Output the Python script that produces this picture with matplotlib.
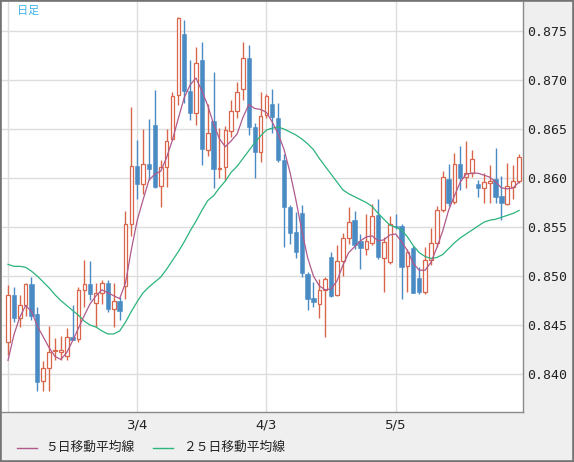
import numpy as np
import pandas as pd
import matplotlib
matplotlib.use("Agg")
import matplotlib.pyplot as plt
from matplotlib.lines import Line2D
from matplotlib.patches import Rectangle

plt.rcParams['font.family'] = ['Noto Sans CJK JP', 'DejaVu Sans']

# ---- data: daily candles (business days from 2020-02-03) ----
dates = pd.bdate_range("2020-02-03", periods=88)

opens = [0.8433, 0.8481, 0.8457, 0.8471, 0.8492, 0.8461, 0.8393, 0.8406, 0.8424, 0.8423,
         0.8419, 0.8438, 0.8436, 0.8486, 0.8492, 0.8473, 0.8483, 0.8493, 0.8466, 0.8475,
         0.8490, 0.8553, 0.8612, 0.8594, 0.8614, 0.8654, 0.8592, 0.8611, 0.8640, 0.8685,
         0.8747, 0.8689, 0.8666, 0.8720, 0.8629, 0.8658, 0.8609, 0.8611, 0.8648, 0.8668,
         0.8691, 0.8722, 0.8652, 0.8627, 0.8664, 0.8676, 0.8661, 0.8618, 0.8571, 0.8545,
         0.8564, 0.8502, 0.8478, 0.8472, 0.8486, 0.8519, 0.8481, 0.8515, 0.8539, 0.8557,
         0.8536, 0.8528, 0.8534, 0.8562, 0.8518, 0.8514, 0.8551, 0.8551, 0.8510, 0.8529,
         0.8498, 0.8484, 0.8516, 0.8534, 0.8567, 0.8599, 0.8576, 0.8614, 0.8601, 0.8605,
         0.8594, 0.8590, 0.8595, 0.8599, 0.8582, 0.8574, 0.8591, 0.8597]
closes = [0.8481, 0.8457, 0.8471, 0.8492, 0.8459, 0.8392, 0.8406, 0.8423, 0.8425, 0.8425,
          0.8438, 0.8435, 0.8486, 0.8492, 0.8482, 0.8483, 0.8493, 0.8466, 0.8475, 0.8464,
          0.8553, 0.8612, 0.8594, 0.8614, 0.8609, 0.8591, 0.8611, 0.8638, 0.8684, 0.8763,
          0.8689, 0.8666, 0.8717, 0.8630, 0.8646, 0.8609, 0.8610, 0.8649, 0.8668, 0.8688,
          0.8722, 0.8652, 0.8627, 0.8663, 0.8684, 0.8662, 0.8618, 0.8571, 0.8544, 0.8525,
          0.8503, 0.8477, 0.8474, 0.8486, 0.8497, 0.8480, 0.8515, 0.8539, 0.8555, 0.8532,
          0.8529, 0.8536, 0.8561, 0.8519, 0.8535, 0.8553, 0.8550, 0.8509, 0.8525, 0.8483,
          0.8484, 0.8516, 0.8534, 0.8567, 0.8601, 0.8575, 0.8614, 0.8600, 0.8605, 0.8619,
          0.8590, 0.8596, 0.8597, 0.8581, 0.8575, 0.8592, 0.8597, 0.8621]
highs = [0.8491, 0.8489, 0.8481, 0.8493, 0.8499, 0.8468, 0.8413, 0.8449, 0.8437, 0.8439,
         0.8447, 0.8471, 0.8489, 0.8516, 0.8515, 0.8493, 0.8496, 0.8496, 0.8493, 0.8479,
         0.8566, 0.8673, 0.8639, 0.8650, 0.8660, 0.8690, 0.8618, 0.8650, 0.8688, 0.8764,
         0.8761, 0.8720, 0.8734, 0.8739, 0.8676, 0.8708, 0.8651, 0.8653, 0.8680, 0.8698,
         0.8739, 0.8736, 0.8656, 0.8688, 0.8686, 0.8691, 0.8677, 0.8625, 0.8573, 0.8565,
         0.8573, 0.8504, 0.8494, 0.8497, 0.8499, 0.8525, 0.8532, 0.8544, 0.8570, 0.8566,
         0.8543, 0.8563, 0.8574, 0.8579, 0.8540, 0.8561, 0.8563, 0.8553, 0.8528, 0.8531,
         0.8509, 0.8530, 0.8549, 0.8572, 0.8607, 0.8614, 0.8626, 0.8633, 0.8638, 0.8629,
         0.8598, 0.8605, 0.8613, 0.8631, 0.8602, 0.8615, 0.8613, 0.8625]
lows = [0.8420, 0.8453, 0.8448, 0.8459, 0.8455, 0.8383, 0.8383, 0.8383, 0.8414, 0.8414,
        0.8414, 0.8435, 0.8433, 0.8468, 0.8476, 0.8448, 0.8472, 0.8463, 0.8448, 0.8455,
        0.8477, 0.8541, 0.8579, 0.8584, 0.8598, 0.8590, 0.8570, 0.8591, 0.8639, 0.8675,
        0.8677, 0.8659, 0.8654, 0.8613, 0.8623, 0.8590, 0.8600, 0.8598, 0.8642, 0.8661,
        0.8680, 0.8644, 0.8600, 0.8616, 0.8661, 0.8646, 0.8616, 0.8530, 0.8533, 0.8518,
        0.8499, 0.8465, 0.8468, 0.8457, 0.8438, 0.8479, 0.8480, 0.8500, 0.8533, 0.8528,
        0.8507, 0.8522, 0.8532, 0.8517, 0.8484, 0.8512, 0.8548, 0.8477, 0.8484, 0.8483,
        0.8482, 0.8482, 0.8511, 0.8530, 0.8565, 0.8572, 0.8574, 0.8588, 0.8590, 0.8601,
        0.8581, 0.8575, 0.8575, 0.8575, 0.8557, 0.8573, 0.8579, 0.8595]

# moving averages
ma5 = [0.8414, 0.8440, 0.8458, 0.8470, 0.8464, 0.8449, 0.8438, 0.8427, 0.8418, 0.8415,
       0.8422, 0.8434, 0.8447, 0.8460, 0.8472, 0.8480, 0.8486, 0.8483, 0.8480, 0.8477,
       0.8493, 0.8527, 0.8557, 0.8578, 0.8598, 0.8604, 0.8607, 0.8621, 0.8639, 0.8661,
       0.8682, 0.8695, 0.8702, 0.8689, 0.8674, 0.8655, 0.8640, 0.8632, 0.8638, 0.8645,
       0.8662, 0.8675, 0.8671, 0.8670, 0.8667, 0.8657, 0.8645, 0.8629, 0.8606, 0.8578,
       0.8547, 0.8519, 0.8500, 0.8490, 0.8486, 0.8487, 0.8495, 0.8511, 0.8524, 0.8530,
       0.8536, 0.8540, 0.8541, 0.8536, 0.8537, 0.8542, 0.8543, 0.8535, 0.8526, 0.8513,
       0.8506, 0.8506, 0.8514, 0.8529, 0.8546, 0.8567, 0.8582, 0.8596, 0.8604, 0.8605,
       0.8605, 0.8603, 0.8601, 0.8596, 0.8590, 0.8589, 0.8590, 0.8596]
ma25 = [0.8512, 0.8510, 0.8510, 0.8509, 0.8505, 0.8500, 0.8494, 0.8488, 0.8481, 0.8475,
        0.8470, 0.8465, 0.8460, 0.8454, 0.8450, 0.8448, 0.8444, 0.8441, 0.8441, 0.8444,
        0.8453, 0.8464, 0.8474, 0.8483, 0.8489, 0.8494, 0.8499, 0.8507, 0.8516, 0.8525,
        0.8535, 0.8546, 0.8556, 0.8567, 0.8577, 0.8582, 0.8590, 0.8597, 0.8606, 0.8612,
        0.8620, 0.8628, 0.8636, 0.8643, 0.8649, 0.8651, 0.8652, 0.8650, 0.8647, 0.8644,
        0.8640, 0.8635, 0.8629, 0.8620, 0.8612, 0.8604, 0.8596, 0.8588, 0.8584, 0.8581,
        0.8578, 0.8575, 0.8571, 0.8564, 0.8558, 0.8552, 0.8550, 0.8547, 0.8540, 0.8531,
        0.8524, 0.8520, 0.8518, 0.8519, 0.8522, 0.8528, 0.8534, 0.8539, 0.8543, 0.8547,
        0.8551, 0.8555, 0.8557, 0.8558, 0.8560, 0.8562, 0.8564, 0.8567]

grid_dates = ["2020-02-03", "2020-03-04", "2020-04-03", "2020-05-05"]
grid_labels = ["", "3/4", "4/3", "5/5"]
y_ticks = [0.840, 0.845, 0.850, 0.855, 0.860, 0.865, 0.870, 0.875]

# ---- colours ----
c_up = "#d9664a"
c_dn = "#4a8bc4"
c_ma5 = "#b05a8c"
c_ma25 = "#2bb47c"
c_grid = "#dddddd"

W, H = 574, 462
fig = plt.figure(figsize=(W / 100, H / 100), dpi=100, facecolor="#efefef")
ax = fig.add_axes([2 / W, 1 - 411.5 / H, 521 / W, 409.5 / H])
ax.set_facecolor("white")

o = np.array(opens); c = np.array(closes)
hi = np.array(highs); lo = np.array(lows)
x = np.arange(len(o))
up = c >= o

# grid
gx = [dates.get_loc(pd.Timestamp(d)) for d in grid_dates]
for g in gx:
    ax.axvline(g, color=c_grid, lw=1, zorder=0)
for v in y_ticks:
    ax.axhline(v, color=c_grid, lw=1, zorder=0)

# wicks then bodies
ax.vlines(x, lo, hi, colors=np.where(up, c_up, c_dn), lw=1, zorder=2)
bw = 0.62
body_h = np.maximum(np.abs(c - o), 0.00004)
ax.bar(x[up], body_h[up], bottom=np.minimum(o, c)[up], width=bw,
       facecolor="white", edgecolor=c_up, linewidth=0.9, zorder=3)
ax.bar(x[~up], body_h[~up], bottom=np.minimum(o, c)[~up], width=bw + 0.1,
       facecolor=c_dn, edgecolor=c_dn, linewidth=0.4, zorder=3)

# moving averages
ax.plot(x, ma25, color=c_ma25, lw=0.9, zorder=4)
ax.plot(x, ma5, color=c_ma5, lw=0.9, zorder=4)

# axes limits / ticks
ax.set_xlim(-1.02, 87.67)
ax.set_ylim(0.83619, 0.87796)
ax.set_xticks(gx)
ax.set_xticklabels(grid_labels, fontsize=9.5, family=['DejaVu Sans'])
ax.yaxis.tick_right()
ax.set_yticks(y_ticks)
ax.set_yticklabels([f"{v:.3f}" for v in y_ticks], fontsize=9.5,
                   family=['DejaVu Sans Mono'])
ax.tick_params(axis="both", length=0, colors="#222222")
ax.tick_params(axis="x", pad=5)
ax.tick_params(axis="y", pad=3)

for s in ["left", "top"]:
    ax.spines[s].set_visible(False)
for s in ["right", "bottom"]:
    ax.spines[s].set_color("#8a8a8a")
    ax.spines[s].set_linewidth(1)

# title label in corner
fig.text(17 / W, 1 - 10.5 / H, "日足", color="#3cb4ea", fontsize=8, va="center")

# legend at the bottom
ly = 1 - 447.5 / H
fig.add_artist(Line2D([16.7 / W, 36.7 / W], [ly, ly], color=c_ma5, lw=1))
fig.text(45 / W, ly, "５日移動平均線", fontsize=9.2, va="center", color="#222222")
fig.add_artist(Line2D([153 / W, 173 / W], [ly, ly], color=c_ma25, lw=1))
fig.text(182.7 / W, ly, "２５日移動平均線", fontsize=9.2, va="center", color="#222222")

# outer frame
fig.add_artist(Rectangle((0, 0), 1, 1, transform=fig.transFigure, fill=False,
                         edgecolor="#737373", linewidth=2.6))

fig.savefig("out.png", dpi=100, facecolor=fig.get_facecolor())
